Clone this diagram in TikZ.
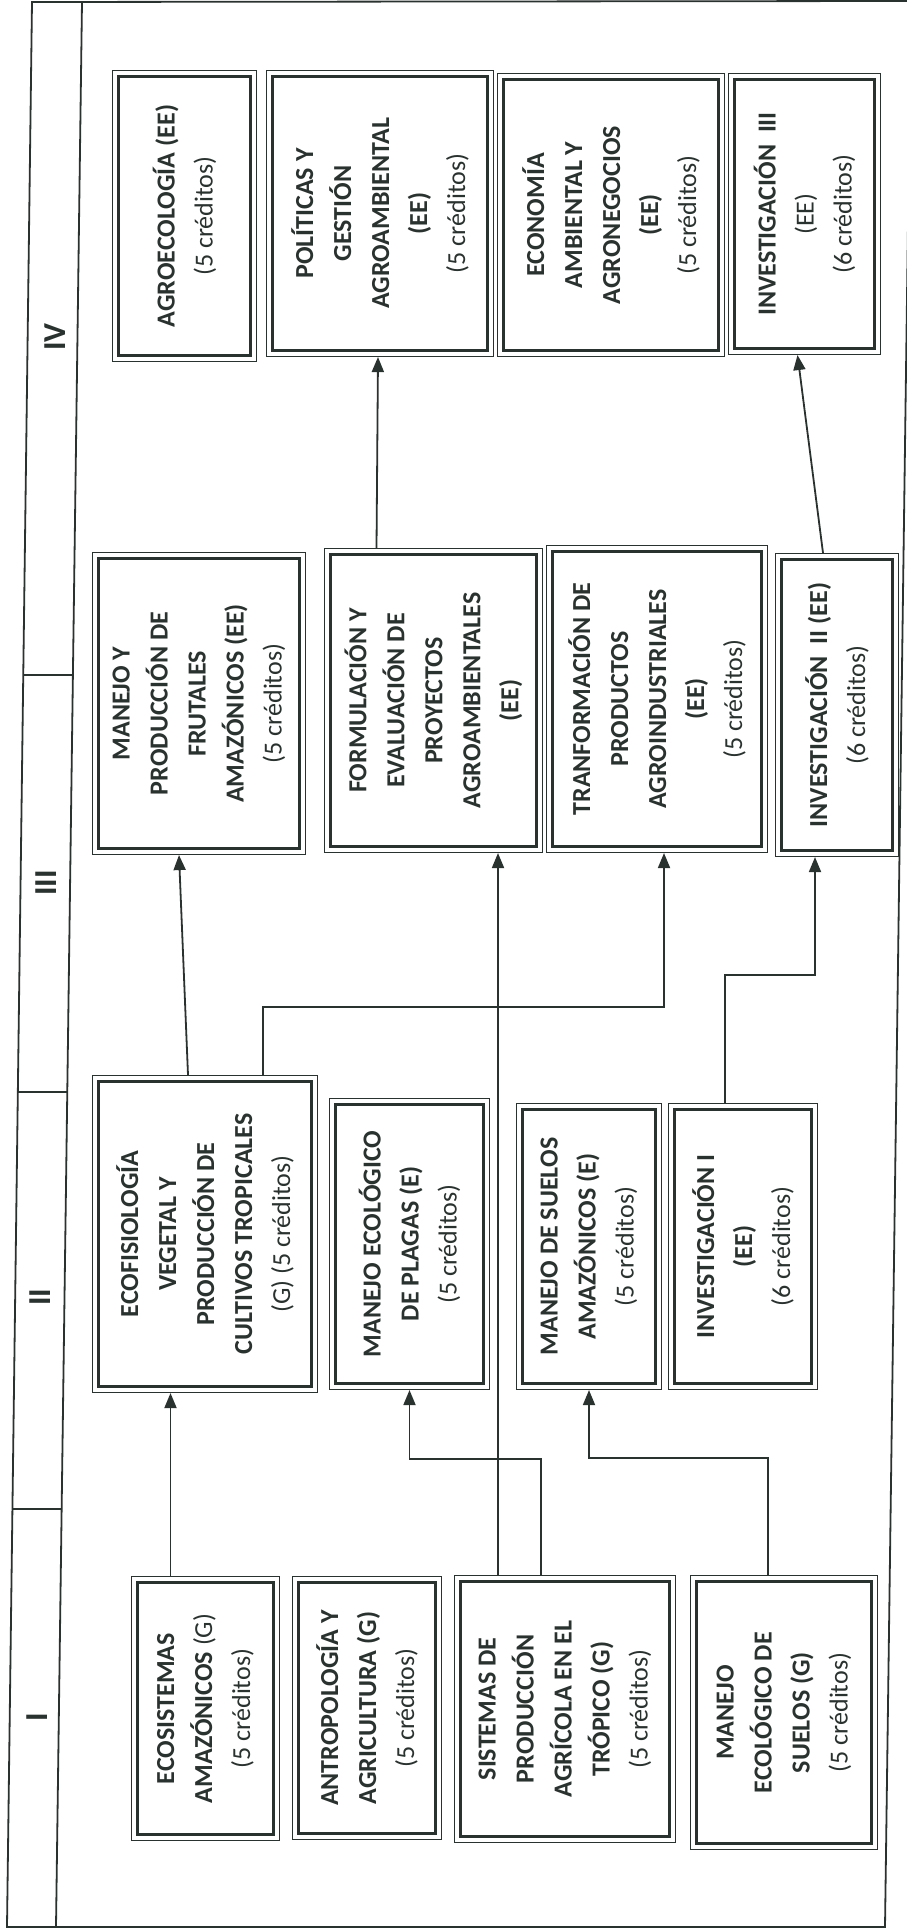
\documentclass[tikz,border=0pt]{standalone}
\usepackage{fontspec}
\setmainfont{Carlito}
\usetikzlibrary{arrows.meta}
\usetikzlibrary{fit}

\definecolor{tinta}{RGB}{42,50,47}
\newcommand{\creditos}[1]{{\mdseries(#1 créditos)}}

\tikzset{
  caja/.style={draw=tinta, text=tinta, line width=2.5pt, rotate=90, align=center,
    inner sep=2pt, font=\fontsize{26}{38}\selectfont\bfseries},
  marco/.style={draw=tinta, line width=1.4pt, inner sep=4.6pt},
  flecha/.style={draw=tinta, line width=1.8pt, -{Triangle[length=15pt,width=12pt]}},
  linea/.style={draw=tinta, line width=1.8pt},
  periodo/.style={text=tinta, rotate=90, font=\fontsize{32}{32}\selectfont\bfseries},
}

\begin{document}
\begin{tikzpicture}[x=1pt,y=-1pt]
\useasboundingbox (0,0) rectangle (906,1929);
\fill[white] (0,0) rectangle (906,1929);

% marco y columna de periodos
\draw[linea] (32,2) -- (911,1) -- (885,1927) -- (7,1927) -- cycle;
\draw[linea] (82,2) -- (56,1927);
\draw[linea] (23,675) -- (73,675);
\draw[linea] (18,1092) -- (67,1092);
\draw[linea] (12,1509) -- (62,1509);

\node[periodo] (p4) at (55,337) {IV};
\node[periodo] (p3) at (46,883) {III};
\node[periodo] (p2) at (40,1297) {II};
\node[periodo] (p1) at (37,1717) {I};

% periodo IV
\node[caja, minimum width=279pt, minimum height=132pt] (agro) at (184.5,216)
  {AGROECOLOGÍA (EE)\\\creditos{5}};
\node[caja, minimum width=274pt, minimum height=215pt] (poli) at (380,213.5)
  {POLÍTICAS Y\\GESTIÓN\\AGROAMBIENTAL\\(EE)\\\creditos{5}};
\node[caja, minimum width=271pt, minimum height=215pt] (econ) at (611,215)
  {ECONOMÍA\\AMBIENTAL Y\\AGRONEGOCIOS\\(EE)\\\creditos{5}};
\node[caja, minimum width=269pt, minimum height=140pt] (inv3) at (804.5,214)
  {INVESTIGACIÓN~~III\\{\mdseries(EE)}\\\creditos{6}};

% periodo III
\node[caja, minimum width=290pt, minimum height=201pt] (frut) at (199,703.5)
  {MANEJO Y\\PRODUCCIÓN DE\\FRUTALES\\AMAZÓNICOS (EE)\\\creditos{5}};
\node[caja, minimum width=292pt, minimum height=206pt] (form) at (433.5,700.5)
  {FORMULACIÓN Y\\EVALUACIÓN DE\\PROYECTOS\\AGROAMBIENTALES\\(EE)};
\node[caja, minimum width=295pt, minimum height=209pt] (trans) at (657,699)
  {TRANFORMACIÓN DE\\PRODUCTOS\\AGROINDUSTRIALES\\(EE)\\\creditos{5}};
\node[caja, minimum width=291pt, minimum height=111pt] (inv2) at (837,705)
  {INVESTIGACIÓN~~II (EE)\\\creditos{6}};

% periodo II
\node[caja, minimum width=305pt, minimum height=213pt] (ecof) at (205,1234)
  {ECOFISIOLOGÍA\\VEGETAL Y\\PRODUCCIÓN DE\\CULTIVOS TROPICALES\\{\mdseries(G)} \creditos{5}};
\node[caja, minimum width=279pt, minimum height=148pt] (plag) at (409.5,1244)
  {MANEJO ECOLÓGICO\\DE PLAGAS (E)\\\creditos{5}};
\node[caja, minimum width=274pt, minimum height=133pt] (suel) at (589,1246.5)
  {MANEJO DE SUELOS\\AMAZÓNICOS (E)\\\creditos{5}};
\node[caja, minimum width=274pt, minimum height=137pt] (inv1) at (743,1246.5)
  {INVESTIGACIÓN I\\(EE)\\\creditos{6}};

% periodo I
\node[caja, minimum width=252pt, minimum height=136pt] (ecos) at (205.5,1708.5)
  {ECOSISTEMAS\\AMAZÓNICOS {\mdseries(G)}\\\creditos{5}};
\node[caja, minimum width=251pt, minimum height=137pt] (antr) at (367,1708)
  {ANTROPOLOGÍA Y\\AGRICULTURA (G)\\\creditos{5}};
\node[caja, minimum width=255pt, minimum height=209pt] (sist) at (565,1709)
  {SISTEMAS DE\\PRODUCCIÓN\\AGRÍCOLA EN EL\\TRÓPICO (G)\\\creditos{5}};
\node[caja, minimum width=262pt, minimum height=175pt] (mane) at (784,1712.5)
  {MANEJO\\ECOLÓGICO DE\\SUELOS (G)\\\creditos{5}};

\foreach \n in {agro,poli,econ,inv3,frut,form,trans,inv2,ecof,plag,suel,inv1,ecos,antr,sist,mane}
  \node[marco, fit=(\n)] (\n-b) {};

% prerrequisitos
\draw[flecha] ([xshift=-35pt]ecos-b.north) -- ([xshift=-35pt]ecos-b.north |- ecof-b.south);
\draw[flecha] ([xshift=-24pt]sist-b.north) -- ++(0,-116) -| (plag-b.south);
\draw[flecha] ([xshift=-67pt]sist-b.north) -- ([xshift=-67pt]sist-b.north |- form-b.south);
\draw[flecha] ([xshift=-16pt]mane-b.north) -- ++(0,-117) -| (suel-b.south);
\draw[flecha] ([xshift=-17pt]ecof-b.north) -- ([xshift=-20pt]frut-b.south);
\draw[flecha] ([xshift=58pt]ecof-b.north) -- ++(0,-68) -| ([xshift=7pt]trans-b.south);
\draw[flecha] ([xshift=-18pt]inv1-b.north) -- ++(0,-128) -| ([xshift=-22pt]inv2-b.south);
\draw[flecha] ([xshift=-57pt]form-b.north) -- ([xshift=-2pt]poli-b.south);
\draw[flecha] ([xshift=-14pt]inv2-b.north) -- ([xshift=-7pt]inv3-b.south);

\end{tikzpicture}
\end{document}
